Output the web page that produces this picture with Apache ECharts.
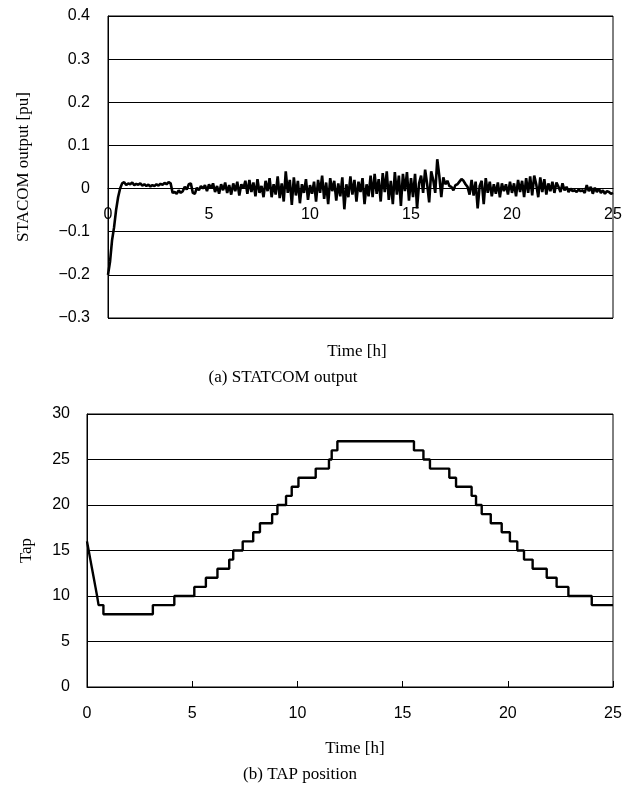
<!DOCTYPE html>
<html><head><meta charset="utf-8">
<script src="https://cdn.jsdelivr.net/npm/echarts@6/dist/echarts.min.js"></script>
<style>html,body{margin:0;padding:0;background:#fff}#c{width:636px;height:791px}</style>
</head><body><div id="c"></div>
<script>
// ---- Data ----
const statcomStep = 0.1; // sampling interval [h]
const statcomOutput = [
-0.200,-0.170,-0.120,-0.090,-0.050,-0.020,0.000,0.012,0.015,0.008,
0.012,0.010,0.014,0.008,0.011,0.009,0.012,0.007,0.010,0.006,
0.009,0.005,0.008,0.006,0.010,0.007,0.011,0.009,0.013,0.010,
0.015,0.012,-0.010,-0.008,-0.012,-0.004,-0.010,-0.006,0.004,-0.002,
0.010,0.012,-0.010,-0.012,0.002,-0.004,0.006,0.000,0.008,-0.006,
0.010,0.000,0.012,-0.008,0.006,-0.012,0.010,-0.004,0.014,-0.010,
0.008,-0.014,0.012,-0.006,0.016,-0.016,0.010,0.000,0.018,-0.012,
0.020,-0.008,0.014,-0.018,0.022,-0.010,0.006,-0.020,0.018,-0.006,
0.024,-0.020,0.010,-0.014,0.028,-0.022,0.012,-0.030,0.040,-0.010,
0.020,-0.038,0.026,-0.016,0.018,-0.034,0.010,-0.010,0.022,-0.026,
0.008,-0.012,0.016,-0.030,0.020,-0.010,0.030,-0.024,0.014,-0.036,
0.024,-0.006,0.018,-0.028,0.012,-0.018,0.026,-0.048,0.010,-0.020,
0.028,-0.014,0.020,-0.030,0.016,-0.008,0.024,-0.036,0.010,-0.018,
0.030,-0.020,0.034,-0.012,0.022,-0.030,0.036,-0.008,0.040,-0.026,
0.018,-0.036,0.038,-0.014,0.030,-0.040,0.034,-0.006,0.038,-0.028,
0.024,-0.020,0.034,-0.046,0.012,0.030,-0.010,0.044,0.010,-0.032,
0.040,0.020,-0.010,0.068,0.030,-0.020,0.026,0.010,0.018,0.006,
0.004,-0.004,0.008,0.010,0.016,0.022,0.018,0.010,0.004,-0.014,
0.020,-0.016,0.016,-0.046,0.006,0.018,-0.036,0.024,-0.010,0.016,
-0.018,0.010,-0.012,0.014,-0.020,0.012,-0.006,0.010,-0.014,0.016,
-0.010,0.012,-0.018,0.020,-0.008,0.018,-0.020,0.024,-0.010,0.028,
-0.016,0.030,0.010,-0.020,0.026,-0.008,0.022,-0.014,0.012,-0.006,
0.016,-0.010,0.014,0.004,-0.008,0.012,-0.004,0.004,-0.008,0.000,
-0.006,-0.004,-0.008,-0.002,-0.006,-0.004,-0.010,0.008,-0.006,0.004,
-0.012,0.002,-0.008,0.000,-0.010,-0.004,-0.012,-0.006,-0.008,-0.012,
-0.010
];
const tapTimes = [0,0.08,0.16,0.24,0.32,0.40,0.48,0.55,0.78,3.13,4.15,5.1,5.65,6.2,6.76,6.95,7.4,7.9,8.22,8.8,9.05,9.46,9.73,10.05,10.87,11.5,11.63,11.9,15.54,15.99,16.3,17.22,17.54,18.28,18.49,18.76,19.19,19.71,20.1,20.45,20.77,21.18,21.85,22.32,22.88,23.99,25];
const tapValues = [16,15,14,13,12,11,10,9,8,9,10,11,12,13,14,15,16,17,18,19,20,21,22,23,24,25,26,27,26,25,24,23,22,21,20,19,18,17,16,15,14,13,12,11,10,9,9];
const xTicks = [0,5,10,15,20,25];
const statTicks = [-0.3,-0.2,-0.1,0,0.1,0.2,0.3,0.4];
const tapTicks = [0,5,10,15,20,25,30];

// ---- Build ----
const statData = statcomOutput.map((v,i)=>[+(i*statcomStep).toFixed(2), v]);
const tapData = tapTimes.map((t,i)=>[t, tapValues[i]]);
const sans = 'Liberation Sans';
const serif = 'Liberation Serif';
const fmtStat = v => { if (Math.abs(v) < 1e-9) return '0'; return (v<0?'\u2212':'') + Math.abs(v).toFixed(1); };

const chart = echarts.init(document.getElementById('c'), null, {renderer:'canvas'});
chart.setOption({
  animation:false,
  backgroundColor:'#fff',
  grid:[
    {left:108, right:23, top:16, height:302, show:true, borderColor:'#000', borderWidth:1, backgroundColor:'transparent'},
    {left:87, right:23, top:414, height:273, show:true, borderColor:'#000', borderWidth:1, backgroundColor:'transparent'}
  ],
  xAxis:[
    {gridIndex:0, type:'value', min:xTicks[0], max:xTicks[xTicks.length-1], interval:5, position:'bottom', offset:-130,
     axisLine:{onZero:false, lineStyle:{color:'#000', width:1}}, axisTick:{show:false},
     axisLabel:{color:'#000', fontFamily:sans, fontSize:16, margin:19}, splitLine:{show:false}},
    {gridIndex:1, type:'value', min:xTicks[0], max:xTicks[xTicks.length-1], interval:5,
     axisLine:{onZero:false, lineStyle:{color:'#000', width:1}}, axisTick:{show:true, inside:true, length:6, lineStyle:{color:'#000'}},
     axisLabel:{color:'#000', fontFamily:sans, fontSize:16, margin:19}, splitLine:{show:false}}
  ],
  yAxis:[
    {gridIndex:0, type:'value', min:statTicks[0], max:statTicks[statTicks.length-1], interval:0.1,
     axisLine:{show:true, lineStyle:{color:'#000'}}, axisTick:{show:false},
     axisLabel:{color:'#000', fontFamily:sans, fontSize:16, margin:18, formatter:fmtStat},
     splitLine:{show:true, lineStyle:{color:'#000', width:1}},
     name:'STACOM output [pu]', nameLocation:'middle', nameGap:76, nameRotate:90,
     nameTextStyle:{color:'#000', fontFamily:serif, fontSize:17}},
    {gridIndex:1, type:'value', min:tapTicks[0], max:tapTicks[tapTicks.length-1], interval:5,
     axisLine:{show:true, lineStyle:{color:'#000'}}, axisTick:{show:false},
     axisLabel:{color:'#000', fontFamily:sans, fontSize:16, margin:17},
     splitLine:{show:true, lineStyle:{color:'#000', width:1}},
     name:'Tap', nameLocation:'middle', nameGap:52, nameRotate:90,
     nameTextStyle:{color:'#000', fontFamily:serif, fontSize:17}}
  ],
  series:[
    {type:'line', xAxisIndex:0, yAxisIndex:0, data:statData, showSymbol:false, symbol:'none',
     lineStyle:{color:'#000', width:2.6}, z:5},
    {type:'line', xAxisIndex:1, yAxisIndex:1, data:tapData, step:'end', showSymbol:false, symbol:'none',
     lineStyle:{color:'#000', width:2.4}, z:5}
  ],
  graphic:[
    {type:'text', style:{text:'Time [h]', x:357, y:352, align:'center', verticalAlign:'middle', fill:'#000', font:'17px "Liberation Serif"'}},
    {type:'text', style:{text:'(a) STATCOM output', x:283, y:378, align:'center', verticalAlign:'middle', fill:'#000', font:'17px "Liberation Serif"'}},
    {type:'text', style:{text:'Time [h]', x:355, y:749, align:'center', verticalAlign:'middle', fill:'#000', font:'17px "Liberation Serif"'}},
    {type:'text', style:{text:'(b) TAP position', x:300, y:775, align:'center', verticalAlign:'middle', fill:'#000', font:'17px "Liberation Serif"'}}
  ]
});
</script></body></html>
